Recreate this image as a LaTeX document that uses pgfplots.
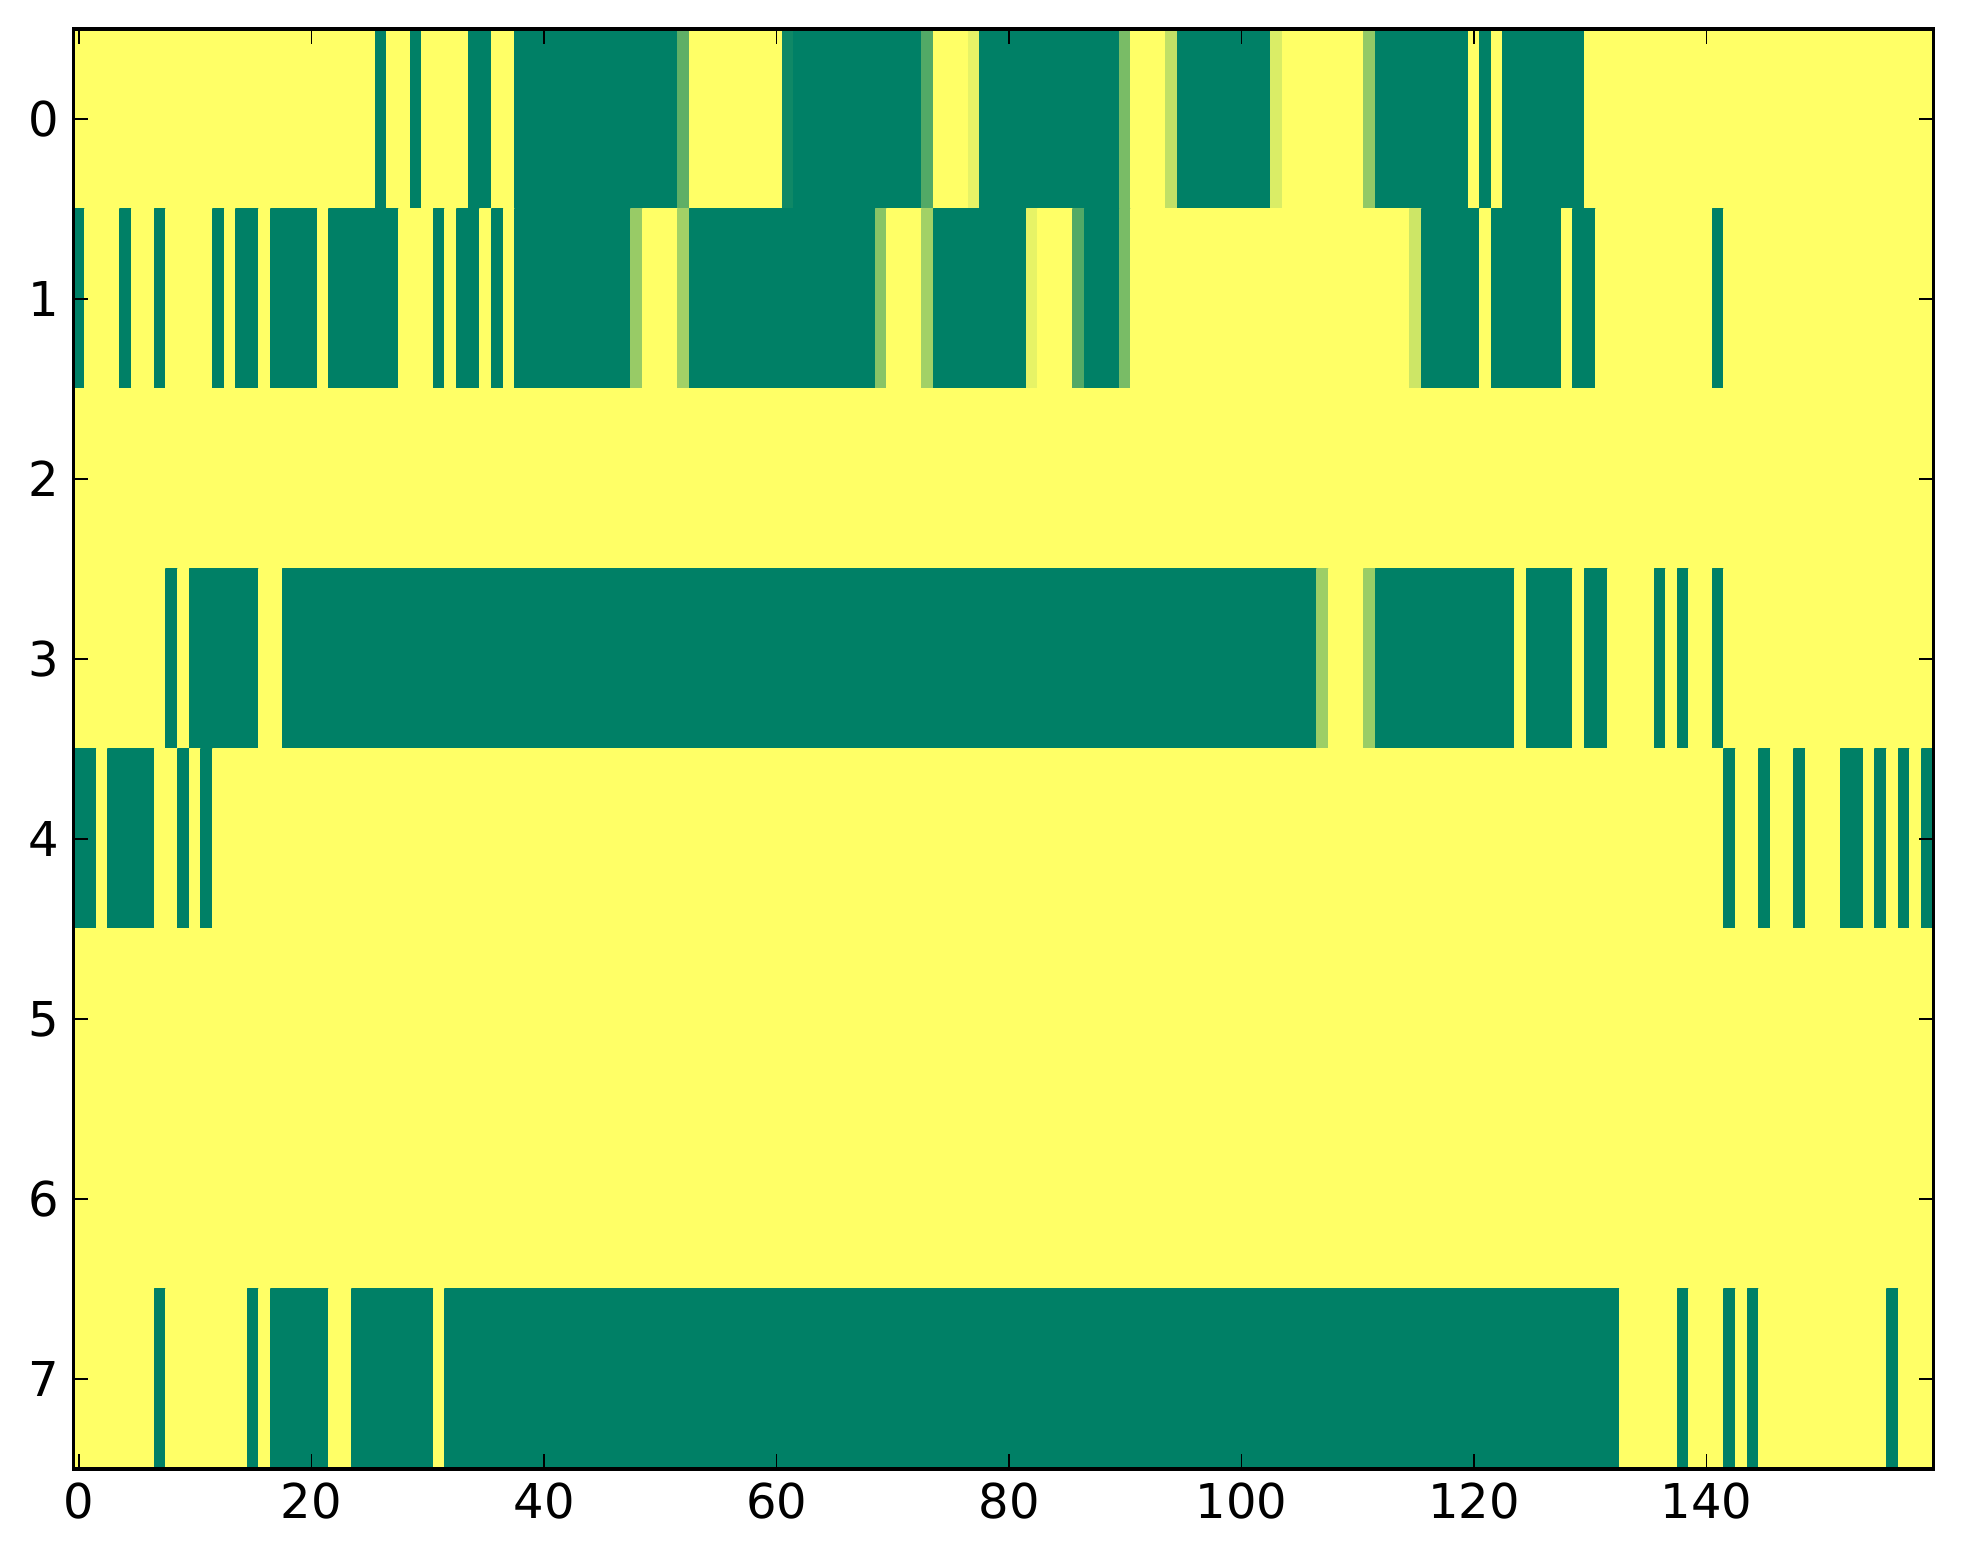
\documentclass[border=0pt]{standalone}
\usepackage{fontspec}
\setmainfont{DejaVu Sans}
\usepackage{pgfplots}
\pgfplotsset{compat=1.18}
\pgfplotsset{cell/.style={patch, patch type=rectangle, shader=flat, point meta=explicit}}
\begin{document}
\begin{tikzpicture}
\path[use as bounding box] (-18.3pt,-23.75pt) rectangle (472.45pt,367.25pt);
\begin{axis}[
  scale only axis, width=465.05pt, height=360pt,
  xmin=-0.5, xmax=159.5, ymin=-0.5, ymax=7.5,
  y dir=reverse, enlargelimits=false, axis on top,
  colormap={summer}{rgb255=(0,128,102) rgb255=(255,255,102)},
  point meta min=0, point meta max=1,
  xtick={0,20,...,140}, ytick={0,1,...,7},
  tick align=inside, major tick length=3.7pt,
  every tick/.style={black, line width=0.4pt},
  axis line style={line width=0.8pt},
  /pgf/number format/assume math mode=true,
  ticklabel style={font=\fontsize{12}{14}\selectfont},
]
% row 0
\addplot[cell] coordinates {
(-0.5,-0.5)[1] (25.5,-0.5)[1] (25.5,0.5)[1] (-0.5,0.5)[1]
(25.5,-0.5)[0] (26.5,-0.5)[0] (26.5,0.5)[0] (25.5,0.5)[0]
(26.5,-0.5)[1] (28.5,-0.5)[1] (28.5,0.5)[1] (26.5,0.5)[1]
(28.5,-0.5)[0] (29.5,-0.5)[0] (29.5,0.5)[0] (28.5,0.5)[0]
(29.5,-0.5)[1] (33.5,-0.5)[1] (33.5,0.5)[1] (29.5,0.5)[1]
(33.5,-0.5)[0] (35.5,-0.5)[0] (35.5,0.5)[0] (33.5,0.5)[0]
(35.5,-0.5)[1] (37.5,-0.5)[1] (37.5,0.5)[1] (35.5,0.5)[1]
(37.5,-0.5)[0] (51.5,-0.5)[0] (51.5,0.5)[0] (37.5,0.5)[0]
(51.5,-0.5)[0.37] (52.5,-0.5)[0.37] (52.5,0.5)[0.37] (51.5,0.5)[0.37]
(52.5,-0.5)[1] (60.5,-0.5)[1] (60.5,0.5)[1] (52.5,0.5)[1]
(60.5,-0.5)[0.06] (61.5,-0.5)[0.06] (61.5,0.5)[0.06] (60.5,0.5)[0.06]
(61.5,-0.5)[0] (72.5,-0.5)[0] (72.5,0.5)[0] (61.5,0.5)[0]
(72.5,-0.5)[0.32] (73.5,-0.5)[0.32] (73.5,0.5)[0.32] (72.5,0.5)[0.32]
(73.5,-0.5)[1] (76.5,-0.5)[1] (76.5,0.5)[1] (73.5,0.5)[1]
(76.5,-0.5)[0.9] (77.5,-0.5)[0.9] (77.5,0.5)[0.9] (76.5,0.5)[0.9]
(77.5,-0.5)[0] (89.5,-0.5)[0] (89.5,0.5)[0] (77.5,0.5)[0]
(89.5,-0.5)[0.47] (90.5,-0.5)[0.47] (90.5,0.5)[0.47] (89.5,0.5)[0.47]
(90.5,-0.5)[1] (93.5,-0.5)[1] (93.5,0.5)[1] (90.5,0.5)[1]
(93.5,-0.5)[0.75] (94.5,-0.5)[0.75] (94.5,0.5)[0.75] (93.5,0.5)[0.75]
(94.5,-0.5)[0] (102.5,-0.5)[0] (102.5,0.5)[0] (94.5,0.5)[0]
(102.5,-0.5)[0.85] (103.5,-0.5)[0.85] (103.5,0.5)[0.85] (102.5,0.5)[0.85]
(103.5,-0.5)[1] (110.5,-0.5)[1] (110.5,0.5)[1] (103.5,0.5)[1]
(110.5,-0.5)[0.57] (111.5,-0.5)[0.57] (111.5,0.5)[0.57] (110.5,0.5)[0.57]
(111.5,-0.5)[0] (119.5,-0.5)[0] (119.5,0.5)[0] (111.5,0.5)[0]
(119.5,-0.5)[1] (120.5,-0.5)[1] (120.5,0.5)[1] (119.5,0.5)[1]
(120.5,-0.5)[0] (121.5,-0.5)[0] (121.5,0.5)[0] (120.5,0.5)[0]
(121.5,-0.5)[1] (122.5,-0.5)[1] (122.5,0.5)[1] (121.5,0.5)[1]
(122.5,-0.5)[0] (129.5,-0.5)[0] (129.5,0.5)[0] (122.5,0.5)[0]
(129.5,-0.5)[1] (159.5,-0.5)[1] (159.5,0.5)[1] (129.5,0.5)[1]
};
% row 1
\addplot[cell] coordinates {
(-0.5,0.5)[0] (0.5,0.5)[0] (0.5,1.5)[0] (-0.5,1.5)[0]
(0.5,0.5)[1] (3.5,0.5)[1] (3.5,1.5)[1] (0.5,1.5)[1]
(3.5,0.5)[0] (4.5,0.5)[0] (4.5,1.5)[0] (3.5,1.5)[0]
(4.5,0.5)[1] (6.5,0.5)[1] (6.5,1.5)[1] (4.5,1.5)[1]
(6.5,0.5)[0] (7.5,0.5)[0] (7.5,1.5)[0] (6.5,1.5)[0]
(7.5,0.5)[1] (11.5,0.5)[1] (11.5,1.5)[1] (7.5,1.5)[1]
(11.5,0.5)[0] (12.5,0.5)[0] (12.5,1.5)[0] (11.5,1.5)[0]
(12.5,0.5)[1] (13.5,0.5)[1] (13.5,1.5)[1] (12.5,1.5)[1]
(13.5,0.5)[0] (15.5,0.5)[0] (15.5,1.5)[0] (13.5,1.5)[0]
(15.5,0.5)[1] (16.5,0.5)[1] (16.5,1.5)[1] (15.5,1.5)[1]
(16.5,0.5)[0] (20.5,0.5)[0] (20.5,1.5)[0] (16.5,1.5)[0]
(20.5,0.5)[1] (21.5,0.5)[1] (21.5,1.5)[1] (20.5,1.5)[1]
(21.5,0.5)[0] (27.5,0.5)[0] (27.5,1.5)[0] (21.5,1.5)[0]
(27.5,0.5)[1] (30.5,0.5)[1] (30.5,1.5)[1] (27.5,1.5)[1]
(30.5,0.5)[0] (31.5,0.5)[0] (31.5,1.5)[0] (30.5,1.5)[0]
(31.5,0.5)[1] (32.5,0.5)[1] (32.5,1.5)[1] (31.5,1.5)[1]
(32.5,0.5)[0] (34.5,0.5)[0] (34.5,1.5)[0] (32.5,1.5)[0]
(34.5,0.5)[1] (35.5,0.5)[1] (35.5,1.5)[1] (34.5,1.5)[1]
(35.5,0.5)[0] (36.5,0.5)[0] (36.5,1.5)[0] (35.5,1.5)[0]
(36.5,0.5)[1] (37.5,0.5)[1] (37.5,1.5)[1] (36.5,1.5)[1]
(37.5,0.5)[0] (47.5,0.5)[0] (47.5,1.5)[0] (37.5,1.5)[0]
(47.5,0.5)[0.59] (48.5,0.5)[0.59] (48.5,1.5)[0.59] (47.5,1.5)[0.59]
(48.5,0.5)[1] (51.5,0.5)[1] (51.5,1.5)[1] (48.5,1.5)[1]
(51.5,0.5)[0.63] (52.5,0.5)[0.63] (52.5,1.5)[0.63] (51.5,1.5)[0.63]
(52.5,0.5)[0] (68.5,0.5)[0] (68.5,1.5)[0] (52.5,1.5)[0]
(68.5,0.5)[0.53] (69.5,0.5)[0.53] (69.5,1.5)[0.53] (68.5,1.5)[0.53]
(69.5,0.5)[1] (72.5,0.5)[1] (72.5,1.5)[1] (69.5,1.5)[1]
(72.5,0.5)[0.63] (73.5,0.5)[0.63] (73.5,1.5)[0.63] (72.5,1.5)[0.63]
(73.5,0.5)[0] (81.5,0.5)[0] (81.5,1.5)[0] (73.5,1.5)[0]
(81.5,0.5)[0.9] (82.5,0.5)[0.9] (82.5,1.5)[0.9] (81.5,1.5)[0.9]
(82.5,0.5)[1] (85.5,0.5)[1] (85.5,1.5)[1] (82.5,1.5)[1]
(85.5,0.5)[0.32] (86.5,0.5)[0.32] (86.5,1.5)[0.32] (85.5,1.5)[0.32]
(86.5,0.5)[0] (89.5,0.5)[0] (89.5,1.5)[0] (86.5,1.5)[0]
(89.5,0.5)[0.47] (90.5,0.5)[0.47] (90.5,1.5)[0.47] (89.5,1.5)[0.47]
(90.5,0.5)[1] (114.5,0.5)[1] (114.5,1.5)[1] (90.5,1.5)[1]
(114.5,0.5)[0.8] (115.5,0.5)[0.8] (115.5,1.5)[0.8] (114.5,1.5)[0.8]
(115.5,0.5)[0] (120.5,0.5)[0] (120.5,1.5)[0] (115.5,1.5)[0]
(120.5,0.5)[1] (121.5,0.5)[1] (121.5,1.5)[1] (120.5,1.5)[1]
(121.5,0.5)[0] (127.5,0.5)[0] (127.5,1.5)[0] (121.5,1.5)[0]
(127.5,0.5)[1] (128.5,0.5)[1] (128.5,1.5)[1] (127.5,1.5)[1]
(128.5,0.5)[0] (130.5,0.5)[0] (130.5,1.5)[0] (128.5,1.5)[0]
(130.5,0.5)[1] (140.5,0.5)[1] (140.5,1.5)[1] (130.5,1.5)[1]
(140.5,0.5)[0] (141.5,0.5)[0] (141.5,1.5)[0] (140.5,1.5)[0]
(141.5,0.5)[1] (159.5,0.5)[1] (159.5,1.5)[1] (141.5,1.5)[1]
};
% row 2
\addplot[cell] coordinates {
(-0.5,1.5)[1] (159.5,1.5)[1] (159.5,2.5)[1] (-0.5,2.5)[1]
};
% row 3
\addplot[cell] coordinates {
(-0.5,2.5)[1] (7.5,2.5)[1] (7.5,3.5)[1] (-0.5,3.5)[1]
(7.5,2.5)[0] (8.5,2.5)[0] (8.5,3.5)[0] (7.5,3.5)[0]
(8.5,2.5)[1] (9.5,2.5)[1] (9.5,3.5)[1] (8.5,3.5)[1]
(9.5,2.5)[0] (15.5,2.5)[0] (15.5,3.5)[0] (9.5,3.5)[0]
(15.5,2.5)[1] (17.5,2.5)[1] (17.5,3.5)[1] (15.5,3.5)[1]
(17.5,2.5)[0] (106.5,2.5)[0] (106.5,3.5)[0] (17.5,3.5)[0]
(106.5,2.5)[0.61] (107.5,2.5)[0.61] (107.5,3.5)[0.61] (106.5,3.5)[0.61]
(107.5,2.5)[1] (110.5,2.5)[1] (110.5,3.5)[1] (107.5,3.5)[1]
(110.5,2.5)[0.6] (111.5,2.5)[0.6] (111.5,3.5)[0.6] (110.5,3.5)[0.6]
(111.5,2.5)[0] (123.5,2.5)[0] (123.5,3.5)[0] (111.5,3.5)[0]
(123.5,2.5)[1] (124.5,2.5)[1] (124.5,3.5)[1] (123.5,3.5)[1]
(124.5,2.5)[0] (128.5,2.5)[0] (128.5,3.5)[0] (124.5,3.5)[0]
(128.5,2.5)[1] (129.5,2.5)[1] (129.5,3.5)[1] (128.5,3.5)[1]
(129.5,2.5)[0] (131.5,2.5)[0] (131.5,3.5)[0] (129.5,3.5)[0]
(131.5,2.5)[1] (135.5,2.5)[1] (135.5,3.5)[1] (131.5,3.5)[1]
(135.5,2.5)[0] (136.5,2.5)[0] (136.5,3.5)[0] (135.5,3.5)[0]
(136.5,2.5)[1] (137.5,2.5)[1] (137.5,3.5)[1] (136.5,3.5)[1]
(137.5,2.5)[0] (138.5,2.5)[0] (138.5,3.5)[0] (137.5,3.5)[0]
(138.5,2.5)[1] (140.5,2.5)[1] (140.5,3.5)[1] (138.5,3.5)[1]
(140.5,2.5)[0] (141.5,2.5)[0] (141.5,3.5)[0] (140.5,3.5)[0]
(141.5,2.5)[1] (159.5,2.5)[1] (159.5,3.5)[1] (141.5,3.5)[1]
};
% row 4
\addplot[cell] coordinates {
(-0.5,3.5)[0] (1.5,3.5)[0] (1.5,4.5)[0] (-0.5,4.5)[0]
(1.5,3.5)[1] (2.5,3.5)[1] (2.5,4.5)[1] (1.5,4.5)[1]
(2.5,3.5)[0] (6.5,3.5)[0] (6.5,4.5)[0] (2.5,4.5)[0]
(6.5,3.5)[1] (8.5,3.5)[1] (8.5,4.5)[1] (6.5,4.5)[1]
(8.5,3.5)[0] (9.5,3.5)[0] (9.5,4.5)[0] (8.5,4.5)[0]
(9.5,3.5)[1] (10.5,3.5)[1] (10.5,4.5)[1] (9.5,4.5)[1]
(10.5,3.5)[0] (11.5,3.5)[0] (11.5,4.5)[0] (10.5,4.5)[0]
(11.5,3.5)[1] (141.5,3.5)[1] (141.5,4.5)[1] (11.5,4.5)[1]
(141.5,3.5)[0] (142.5,3.5)[0] (142.5,4.5)[0] (141.5,4.5)[0]
(142.5,3.5)[1] (144.5,3.5)[1] (144.5,4.5)[1] (142.5,4.5)[1]
(144.5,3.5)[0] (145.5,3.5)[0] (145.5,4.5)[0] (144.5,4.5)[0]
(145.5,3.5)[1] (147.5,3.5)[1] (147.5,4.5)[1] (145.5,4.5)[1]
(147.5,3.5)[0] (148.5,3.5)[0] (148.5,4.5)[0] (147.5,4.5)[0]
(148.5,3.5)[1] (151.5,3.5)[1] (151.5,4.5)[1] (148.5,4.5)[1]
(151.5,3.5)[0] (153.5,3.5)[0] (153.5,4.5)[0] (151.5,4.5)[0]
(153.5,3.5)[1] (154.5,3.5)[1] (154.5,4.5)[1] (153.5,4.5)[1]
(154.5,3.5)[0] (155.5,3.5)[0] (155.5,4.5)[0] (154.5,4.5)[0]
(155.5,3.5)[1] (156.5,3.5)[1] (156.5,4.5)[1] (155.5,4.5)[1]
(156.5,3.5)[0] (157.5,3.5)[0] (157.5,4.5)[0] (156.5,4.5)[0]
(157.5,3.5)[1] (158.5,3.5)[1] (158.5,4.5)[1] (157.5,4.5)[1]
(158.5,3.5)[0] (159.5,3.5)[0] (159.5,4.5)[0] (158.5,4.5)[0]
};
% rows 5 and 6
\addplot[cell] coordinates {
(-0.5,4.5)[1] (159.5,4.5)[1] (159.5,5.5)[1] (-0.5,5.5)[1]
(-0.5,5.5)[1] (159.5,5.5)[1] (159.5,6.5)[1] (-0.5,6.5)[1]
};
% row 7
\addplot[cell] coordinates {
(-0.5,6.5)[1] (6.5,6.5)[1] (6.5,7.5)[1] (-0.5,7.5)[1]
(6.5,6.5)[0] (7.5,6.5)[0] (7.5,7.5)[0] (6.5,7.5)[0]
(7.5,6.5)[1] (14.5,6.5)[1] (14.5,7.5)[1] (7.5,7.5)[1]
(14.5,6.5)[0] (15.5,6.5)[0] (15.5,7.5)[0] (14.5,7.5)[0]
(15.5,6.5)[1] (16.5,6.5)[1] (16.5,7.5)[1] (15.5,7.5)[1]
(16.5,6.5)[0] (21.5,6.5)[0] (21.5,7.5)[0] (16.5,7.5)[0]
(21.5,6.5)[1] (23.5,6.5)[1] (23.5,7.5)[1] (21.5,7.5)[1]
(23.5,6.5)[0] (30.5,6.5)[0] (30.5,7.5)[0] (23.5,7.5)[0]
(30.5,6.5)[1] (31.5,6.5)[1] (31.5,7.5)[1] (30.5,7.5)[1]
(31.5,6.5)[0] (132.5,6.5)[0] (132.5,7.5)[0] (31.5,7.5)[0]
(132.5,6.5)[1] (137.5,6.5)[1] (137.5,7.5)[1] (132.5,7.5)[1]
(137.5,6.5)[0] (138.5,6.5)[0] (138.5,7.5)[0] (137.5,7.5)[0]
(138.5,6.5)[1] (141.5,6.5)[1] (141.5,7.5)[1] (138.5,7.5)[1]
(141.5,6.5)[0] (142.5,6.5)[0] (142.5,7.5)[0] (141.5,7.5)[0]
(142.5,6.5)[1] (143.5,6.5)[1] (143.5,7.5)[1] (142.5,7.5)[1]
(143.5,6.5)[0] (144.5,6.5)[0] (144.5,7.5)[0] (143.5,7.5)[0]
(144.5,6.5)[1] (155.5,6.5)[1] (155.5,7.5)[1] (144.5,7.5)[1]
(155.5,6.5)[0] (156.5,6.5)[0] (156.5,7.5)[0] (155.5,7.5)[0]
(156.5,6.5)[1] (159.5,6.5)[1] (159.5,7.5)[1] (156.5,7.5)[1]
};
\end{axis}
\end{tikzpicture}
\end{document}
